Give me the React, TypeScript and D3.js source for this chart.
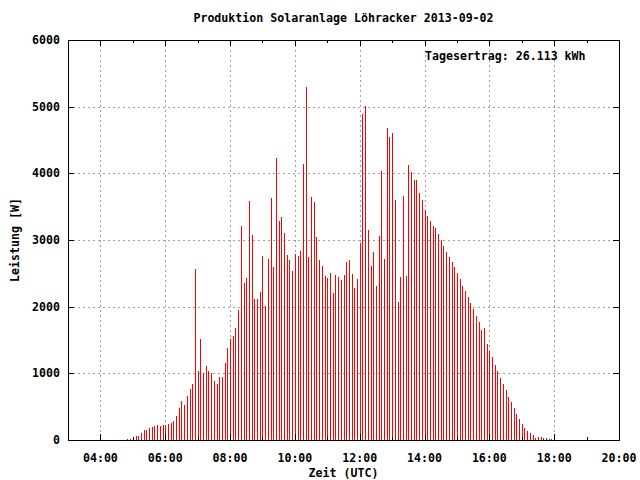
import React from "react";
import * as d3 from "d3";

const times: string[] = [
  "04:50", "04:55",
  "05:00", "05:05", "05:10", "05:15", "05:20", "05:25", "05:30", "05:35", "05:40", "05:45", "05:50", "05:55",
  "06:00", "06:05", "06:10", "06:15", "06:20", "06:25", "06:30", "06:35", "06:40", "06:45", "06:50", "06:55",
  "07:00", "07:05", "07:10", "07:15", "07:20", "07:25", "07:30", "07:35", "07:40", "07:45", "07:50", "07:55",
  "08:00", "08:05", "08:10", "08:15", "08:20", "08:25", "08:30", "08:35", "08:40", "08:45", "08:50", "08:55",
  "09:00", "09:05", "09:10", "09:15", "09:20", "09:25", "09:30", "09:35", "09:40", "09:45", "09:50", "09:55",
  "10:00", "10:05", "10:10", "10:15", "10:20", "10:25", "10:30", "10:35", "10:40", "10:45", "10:50", "10:55",
  "11:00", "11:05", "11:10", "11:15", "11:20", "11:25", "11:30", "11:35", "11:40", "11:45", "11:50", "11:55",
  "12:00", "12:05", "12:10", "12:15", "12:20", "12:25", "12:30", "12:35", "12:40", "12:45", "12:50", "12:55",
  "13:00", "13:05", "13:10", "13:15", "13:20", "13:25", "13:30", "13:35", "13:40", "13:45", "13:50", "13:55",
  "14:00", "14:05", "14:10", "14:15", "14:20", "14:25", "14:30", "14:35", "14:40", "14:45", "14:50", "14:55",
  "15:00", "15:05", "15:10", "15:15", "15:20", "15:25", "15:30", "15:35", "15:40", "15:45", "15:50", "15:55",
  "16:00", "16:05", "16:10", "16:15", "16:20", "16:25", "16:30", "16:35", "16:40", "16:45", "16:50", "16:55",
  "17:00", "17:05", "17:10", "17:15", "17:20", "17:25", "17:30", "17:35", "17:40", "17:45", "17:50", "17:55",
];

const power: number[] = [
  15, 15,
  35, 65, 65, 105, 150, 150, 185, 200, 215, 225, 210, 225,
  225, 240, 260, 285, 360, 480, 585, 525, 660, 765, 840, 2565,
  1035, 1515, 1005, 1110, 1035, 1005, 885, 840, 945, 945, 1155, 1380,
  1515, 1560, 1680, 1950, 3210, 2355, 2430, 3585, 3075, 2115, 2115, 2220,
  2760, 2010, 2715, 3630, 2595, 4230, 3285, 3345, 3105, 2775, 2700, 2535,
  2795, 2760, 2835, 4140, 5295, 2745, 3645, 3570, 3045, 2700, 2610, 2460,
  2430, 2505, 2205, 2475, 2445, 2400, 2475, 2670, 2700, 2490, 2280, 2415,
  2955, 4890, 5010, 3150, 2610, 2820, 2310, 3060, 4035, 2715, 4680, 4545,
  4605, 3600, 2070, 2445, 3665, 2460, 4125, 4020, 3900, 3900, 3705, 3600,
  3450, 3360, 3285, 3210, 3180, 3090, 3000, 2910, 2820, 2745, 2670, 2595,
  2505, 2415, 2310, 2235, 2145, 2055, 1965, 1860, 1770, 1650, 1680, 1440,
  1335, 1245, 1125, 1035, 930, 840, 750, 645, 570, 480, 390, 315,
  240, 180, 135, 105, 75, 30, 45, 45, 30, 30, 15, 15,
];

const xMajorTicks: string[] = ["04:00", "06:00", "08:00", "10:00", "12:00", "14:00", "16:00", "18:00", "20:00"];
const xMinorTicks: string[] = ["03:00", "05:00", "07:00", "09:00", "11:00", "13:00", "15:00", "17:00", "19:00"];
const yTicks: number[] = [0, 1000, 2000, 3000, 4000, 5000, 6000];

const title = "Produktion Solaranlage Löhracker 2013-09-02";
const yieldLabel = "Tagesertrag: 26.113 kWh";
const xLabel = "Zeit (UTC)";
const yLabel = "Leistung [W]";

const toMin = (s: string) => {
  const [h, m] = s.split(":").map(Number);
  return h * 60 + m;
};

const FONT = "'DejaVu Sans Mono', 'Liberation Mono', monospace";

export default function App() {
  const W = 640, H = 480;
  const left = 68, right = 619, top = 40, bottom = 440;
  const x = d3.scaleLinear().domain([toMin("03:00"), toMin("20:00")]).range([left, right]);
  const y = d3.scaleLinear().domain([0, 6000]).range([bottom, top]);
  const px = (v: number) => Math.round(v) + 0.5;

  return (
    <svg width={W} height={H} style={{ position: "absolute", left: 0, top: 0, background: "#fff" }}
      fontFamily={FONT} fontWeight="bold" fontSize={11.6}>
      <rect x={0} y={0} width={W} height={H} fill="#fff" />
      {/* grid */}
      <g stroke="#a0a0a0" strokeWidth={1} strokeDasharray="2,3" shapeRendering="crispEdges">
        {xMajorTicks.filter((t) => toMin(t) < toMin("20:00")).map((t) => (
          <line key={"gx" + t} x1={px(x(toMin(t)))} x2={px(x(toMin(t)))} y1={top} y2={bottom} />
        ))}
        {yTicks.filter((v) => v > 0 && v < 6000).map((v) => (
          <line key={"gy" + v} x1={left} x2={right} y1={px(y(v))} y2={px(y(v))} />
        ))}
      </g>
      {/* bars */}
      <g stroke="#ff0000" strokeWidth={1} shapeRendering="crispEdges">
        {power.map((v, i) => (
          <line key={i} x1={px(x(toMin(times[i])))} x2={px(x(toMin(times[i])))} y1={y(0)} y2={y(v)} />
        ))}
      </g>
      {/* frame and ticks */}
      <g stroke="#000" strokeWidth={1} shapeRendering="crispEdges" fill="none">
        <rect x={left + 0.5} y={top + 0.5} width={right - left} height={bottom - top} />
        {xMajorTicks.map((t) => {
          const xx = px(x(toMin(t)));
          return (
            <g key={"tx" + t}>
              <line x1={xx} x2={xx} y1={bottom} y2={bottom - 6} />
              <line x1={xx} x2={xx} y1={top} y2={top + 6} />
            </g>
          );
        })}
        {xMinorTicks.map((t) => {
          const xx = px(x(toMin(t)));
          return (
            <g key={"mx" + t}>
              <line x1={xx} x2={xx} y1={bottom} y2={bottom - 3} />
              <line x1={xx} x2={xx} y1={top} y2={top + 3} />
            </g>
          );
        })}
        {yTicks.map((v) => {
          const yy = px(y(v));
          return (
            <g key={"ty" + v}>
              <line x1={left} x2={left + 6} y1={yy} y2={yy} />
              <line x1={right} x2={right - 6} y1={yy} y2={yy} />
            </g>
          );
        })}
      </g>
      {/* labels */}
      <g fill="#000">
        {yTicks.map((v) => (
          <text key={"ly" + v} x={60} y={y(v) + 4} textAnchor="end">{v}</text>
        ))}
        {xMajorTicks.map((t) => (
          <text key={"lx" + t} x={x(toMin(t))} y={462} textAnchor="middle">{t}</text>
        ))}
        <text x={(left + right) / 2} y={22} textAnchor="middle">{title}</text>
        <text x={(left + right) / 2} y={477} textAnchor="middle">{xLabel}</text>
        <text transform={`translate(19,240) rotate(-90)`} textAnchor="middle">{yLabel}</text>
        <text x={425} y={60}>{yieldLabel}</text>
      </g>
    </svg>
  );
}
